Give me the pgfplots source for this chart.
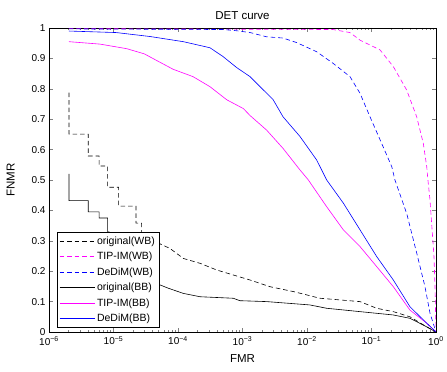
\documentclass[border=0pt]{standalone}
\usepackage{fontspec}
\setmainfont{Liberation Sans}
\usepackage{pgfplots}
\pgfplotsset{compat=1.18}
\usetikzlibrary{calc}
\definecolor{mag}{RGB}{255,0,255}
\definecolor{blu}{RGB}{0,0,255}
\begin{document}
\fontsize{10}{12}\selectfont
\begin{tikzpicture}[font=\fontsize{10}{12}\selectfont]
\begin{semilogxaxis}[
  scale only axis, width=387pt, height=304pt,
  xmin=1e-6, xmax=1, ymin=0, ymax=1,
  ytick={0,0.1,0.2,0.3,0.4,0.5,0.6,0.7,0.8,0.9,1},
  yticklabels={0,0.1,0.2,0.3,0.4,0.5,0.6,0.7,0.8,0.9,1},
  xtick={1e-6,1e-5,1e-4,1e-3,1e-2,1e-1,1},
  xticklabels={10\textsuperscript{−6},10\textsuperscript{−5},10\textsuperscript{−4},10\textsuperscript{−3},10\textsuperscript{−2},10\textsuperscript{−1},10\textsuperscript{0}},
  xticklabel style={yshift=-1pt},
  tick align=inside, xtick pos=both, ytick pos=both,
  major tick length=4pt, minor tick length=2pt,
  title={DET curve}, xlabel={FMR}, ylabel={FNMR},
  title style={yshift=-1pt, font=\fontsize{11.5}{13}\selectfont},
  xlabel style={yshift=-3pt, font=\fontsize{11.5}{13}\selectfont},
  ylabel style={yshift=10pt, font=\fontsize{11.5}{13}\selectfont},
  /pgf/number format/assume math mode=true,
  every axis plot/.append style={line width=0.6pt},
  legend cell align=left,
  legend style={at={(rel axis cs:0.0207,0.015)}, anchor=south west, draw=black,
    font=\fontsize{10.5}{11}\selectfont, row sep=2.4pt, inner sep=2pt},
  legend image code/.code={\draw[mark repeat=2,mark phase=2,#1,line width=0.8pt] plot coordinates {(0pt,0pt) (17.5pt,0pt) (35pt,0pt)};},
]
\coordinate (SW) at (rel axis cs:0,0);
\coordinate (NE) at (rel axis cs:1,1);
% original(WB)
\addplot[black, dash pattern=on 4.5pt off 3pt] coordinates {
(2.04e-6,0.787)(2.04e-6,0.651)(4.06e-6,0.651)(4.06e-6,0.579)(6.0e-6,0.579)(6.0e-6,0.546)
(8.1e-6,0.546)(8.1e-6,0.476)(1.2e-5,0.476)(1.2e-5,0.414)(2.23e-5,0.414)(2.23e-5,0.358)
(2.73e-5,0.358)(2.73e-5,0.32)(3.8e-5,0.305)(5.5e-5,0.288)(7.5e-5,0.275)(1.21e-4,0.242)
(2.19e-4,0.226)(3.98e-4,0.204)(7.2e-4,0.1875)(1.31e-3,0.171)(2.67e-3,0.149)(6.14e-3,0.133)
(0.0159,0.111)(0.0664,0.1)(0.1205,0.078)(0.218,0.067)(0.395,0.05)(0.718,0.017)(1,0)};
\addlegendentry{original(WB)}
% TIP-IM(WB)
\addplot[mag, dash pattern=on 4.5pt off 3pt] coordinates {
(2.04e-6,0.998)(0.0253,0.995)(0.0464,0.985)(0.0664,0.96)(0.1355,0.928)(0.218,0.873)
(0.351,0.796)(0.502,0.708)(0.636,0.62)(0.718,0.544)(0.75,0.5)(0.807,0.434)(0.93,0.25)
(0.965,0.15)(1,0)};
\addlegendentry{TIP-IM(WB)}
% DeDiM(WB)
\addplot[color=blu, dash pattern=on 4.5pt off 3pt] coordinates {
(2.04e-6,0.997)(5e-4,0.995)(8.1e-4,0.991)(1.31e-3,0.985)(2.37e-3,0.971)(4.25e-3,0.967)
(6.92e-3,0.952)(0.0141,0.922)(0.0253,0.884)(0.0464,0.84)(0.0664,0.785)(0.0948,0.708)
(0.144,0.62)(0.206,0.544)(0.231,0.5)(0.351,0.39)(0.502,0.26)(0.675,0.149)(0.807,0.062)(1,0)};
\addlegendentry{DeDiM(WB)}
% original(BB)
\addplot[black] coordinates {
(2.04e-6,0.52)(2.04e-6,0.432)(4.06e-6,0.432)(4.06e-6,0.395)(6e-6,0.395)(6e-6,0.375)
(8.1e-6,0.375)(8.1e-6,0.33)(9.9e-6,0.325)(1.5e-5,0.26)(2.5e-5,0.2)(4e-5,0.165)
(7.08e-5,0.144)(1.21e-4,0.127)(2.19e-4,0.116)(7.2e-4,0.111)(9.1e-4,0.103)(2.37e-3,0.1)
(0.0111,0.089)(0.0202,0.078)(0.0664,0.067)(0.218,0.056)(0.395,0.045)(0.718,0.017)(1,0)};
\addlegendentry{original(BB)}
% TIP-IM(BB)
\addplot[mag] coordinates {
(2.04e-6,0.955)(6.18e-6,0.947)(1.6e-5,0.932)(3e-5,0.915)(4.68e-5,0.893)(8.45e-5,0.864)
(1.71e-4,0.84)(3.13e-4,0.807)(5.69e-4,0.764)(1.03e-3,0.735)(1.31e-3,0.712)(2.37e-3,0.664)
(4.25e-3,0.604)(7.79e-3,0.533)(0.0105,0.5)(0.0202,0.412)(0.0366,0.336)(0.0664,0.281)
(0.1205,0.215)(0.218,0.149)(0.395,0.072)(0.718,0.029)(1,0)};
\addlegendentry{TIP-IM(BB)}
% DeDiM(BB)
\addplot[color=blu] coordinates {
(2.04e-6,0.99)(1.1e-5,0.985)(3.68e-5,0.972)(1.21e-4,0.955)(3.13e-4,0.935)(5e-4,0.906)
(8.1e-4,0.87)(1.31e-3,0.84)(1.87e-3,0.807)(2.97e-3,0.765)(4.25e-3,0.708)(7.79e-3,0.643)
(0.0141,0.566)(0.0202,0.5)(0.0366,0.424)(0.0664,0.336)(0.1205,0.248)(0.218,0.171)
(0.395,0.083)(0.718,0.029)(1,0)};
\addlegendentry{DeDiM(BB)}
\end{semilogxaxis}
\pgfresetboundingbox
\path ($(SW)+(-49pt,-40pt)$) rectangle ($(NE)+(11pt,28pt)$);
\end{tikzpicture}
\end{document}
